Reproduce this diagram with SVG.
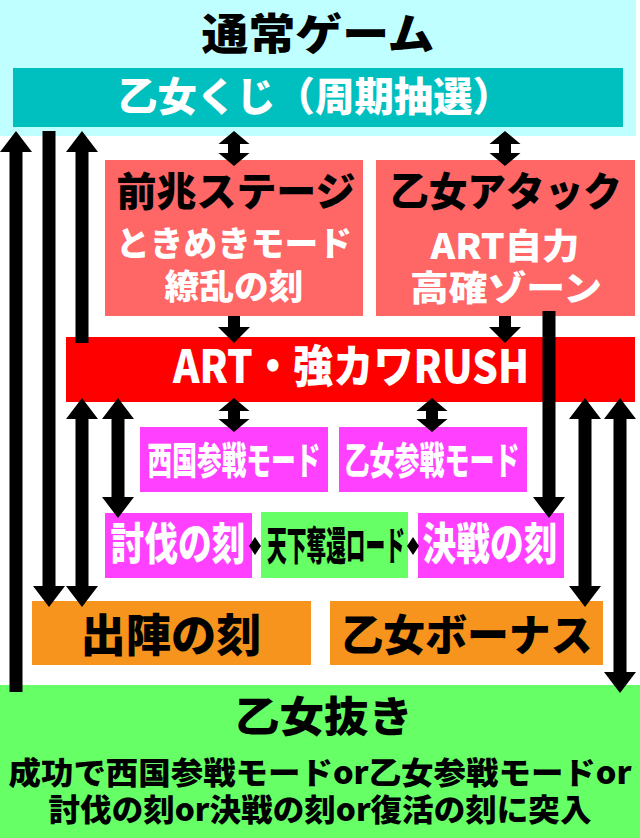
<svg xmlns="http://www.w3.org/2000/svg" width="640" height="838" viewBox="0 0 640 838">
<style>
text{font-family:"Noto Sans CJK JP","Noto Sans",sans-serif;font-weight:900;text-anchor:middle}
.w{fill:#ffffff}
.k{fill:#000000}
.arr{fill:#000000}
</style>
<rect x="0" y="0" width="640" height="838" fill="#ffffff"/>
<g id="normal-game">
<rect x="0" y="0" width="636" height="136" fill="#c0ffff"/>
<text class="k" x="318" y="50" font-size="43" textLength="233" lengthAdjust="spacingAndGlyphs">通常ゲーム</text>
</g>
<g id="otome-kuji">
<rect x="13" y="68" width="610" height="59" fill="#00bfbf"/>
<text class="w" x="315" y="111" font-size="40" textLength="394" lengthAdjust="spacingAndGlyphs">乙女くじ（周期抽選）</text>
</g>
<g id="zencho">
<rect x="105" y="160" width="258" height="156" fill="#ff6666"/>
<text class="k" x="236" y="206" font-size="40" textLength="239" lengthAdjust="spacingAndGlyphs">前兆ステージ</text>
<text class="w" x="234" y="256" font-size="34" textLength="236" lengthAdjust="spacingAndGlyphs">ときめきモード</text>
<text class="w" x="234" y="299" font-size="34" textLength="139" lengthAdjust="spacingAndGlyphs">繚乱の刻</text>
</g>
<g id="otome-attack">
<rect x="376" y="160" width="259" height="156" fill="#ff6666"/>
<text class="k" x="506" y="206" font-size="40" textLength="232" lengthAdjust="spacingAndGlyphs">乙女アタック</text>
<text class="w" x="505" y="259" font-size="35" textLength="149" lengthAdjust="spacingAndGlyphs">ART自力</text>
<text class="w" x="506" y="301" font-size="35" textLength="192" lengthAdjust="spacingAndGlyphs">高確ゾーン</text>
</g>
<g id="art-rush">
<rect x="66" y="337" width="569" height="65" fill="#ff0000"/>
<text class="w" x="351" y="383" font-size="45" textLength="356" lengthAdjust="spacingAndGlyphs">ART・強カワRUSH</text>
</g>
<g id="saigoku">
<rect x="140" y="427" width="188" height="65" fill="#ff40ff"/>
<text class="w" x="234" y="474" font-size="38" textLength="173" lengthAdjust="spacingAndGlyphs">西国参戦モード</text>
</g>
<g id="otome-sansen">
<rect x="339" y="427" width="188" height="65" fill="#ff40ff"/>
<text class="w" x="432" y="474" font-size="38" textLength="175" lengthAdjust="spacingAndGlyphs">乙女参戦モード</text>
</g>
<g id="toubatsu">
<rect x="105" y="513" width="147" height="65" fill="#ff40ff"/>
<text class="w" x="178" y="560" font-size="44" textLength="135" lengthAdjust="spacingAndGlyphs">討伐の刻</text>
</g>
<g id="tenka">
<rect x="261" y="512" width="147" height="66" fill="#66ff66"/>
<text class="k" x="336" y="560" font-size="40" textLength="138" lengthAdjust="spacingAndGlyphs">天下奪還ロード</text>
</g>
<g id="kessen">
<rect x="418" y="513" width="146" height="65" fill="#ff40ff"/>
<text class="w" x="490" y="560" font-size="44" textLength="135" lengthAdjust="spacingAndGlyphs">決戦の刻</text>
</g>
<g id="shutsujin">
<rect x="32" y="601" width="279" height="64" fill="#f7941d"/>
<text class="k" x="171" y="652" font-size="45" textLength="181" lengthAdjust="spacingAndGlyphs">出陣の刻</text>
</g>
<g id="otome-bonus">
<rect x="330" y="601" width="273" height="64" fill="#f7941d"/>
<text class="k" x="467" y="651" font-size="43" textLength="251" lengthAdjust="spacingAndGlyphs">乙女ボーナス</text>
</g>
<g id="otome-nuki">
<rect x="0" y="685" width="640" height="153" fill="#66ff66"/>
<text class="k" x="324" y="732" font-size="42" textLength="178" lengthAdjust="spacingAndGlyphs">乙女抜き</text>
<text class="k" x="320" y="784" font-size="31" textLength="623" lengthAdjust="spacingAndGlyphs">成功で西国参戦モードor乙女参戦モードor</text>
<text class="k" x="320" y="821" font-size="31" textLength="543" lengthAdjust="spacingAndGlyphs">討伐の刻or決戦の刻or復活の刻に突入</text>
</g>
<g id="connectors" class="arr">
<path d="M16,131 L32,152 L22.5,152 L22.5,692 L9.5,692 L9.5,152 L0,152 Z"/>
<path d="M42.5,131 L55.5,131 L55.5,586 L65,586 L49,607 L33,586 L42.5,586 Z"/>
<path d="M82,131 L98,152 L88.5,152 L88.5,343 L75.5,343 L75.5,152 L66,152 Z"/>
<path d="M82,398 L98,419 L88.5,419 L88.5,586 L98,586 L82,607 L66,586 L75.5,586 L75.5,419 L66,419 Z"/>
<path d="M118,398 L134,419 L124.5,419 L124.5,497 L134,497 L118,518 L102,497 L111.5,497 L111.5,419 L102,419 Z"/>
<path d="M234,131 L249.5,144 L240,144 L240,153 L249.5,153 L234,166 L218.5,153 L228,153 L228,144 L218.5,144 Z"/>
<path d="M505,131 L520.5,144 L511,144 L511,153 L520.5,153 L505,166 L489.5,153 L499,153 L499,144 L489.5,144 Z"/>
<path d="M228,316 L240,316 L240,327 L250,327 L234,343 L218,327 L228,327 Z"/>
<path d="M499,316 L511,316 L511,327 L521,327 L505,343 L489,327 L499,327 Z"/>
<path d="M234,398 L249.5,411 L240,411 L240,419 L249.5,419 L234,432 L218.5,419 L228,419 L228,411 L218.5,411 Z"/>
<path d="M432,398 L447.5,411 L438,411 L438,419 L447.5,419 L432,432 L416.5,419 L426,419 L426,411 L416.5,411 Z"/>
<path d="M542.5,311 L555.5,311 L555.5,497 L565,497 L549,518 L533,497 L542.5,497 Z"/>
<path d="M585,398 L601,419 L591.5,419 L591.5,586 L601,586 L585,607 L569,586 L578.5,586 L578.5,419 L569,419 Z"/>
<path d="M620,398 L636,419 L626.5,419 L626.5,672 L636,672 L620,693 L604,672 L613.5,672 L613.5,419 L604,419 Z"/>
<path d="M249,546 L255,537 L255,555 Z M261,546 L255,537 L255,555 Z"/>
<path d="M407,546 L413,537 L413,555 Z M419,546 L413,537 L413,555 Z"/>
</g>
</svg>
